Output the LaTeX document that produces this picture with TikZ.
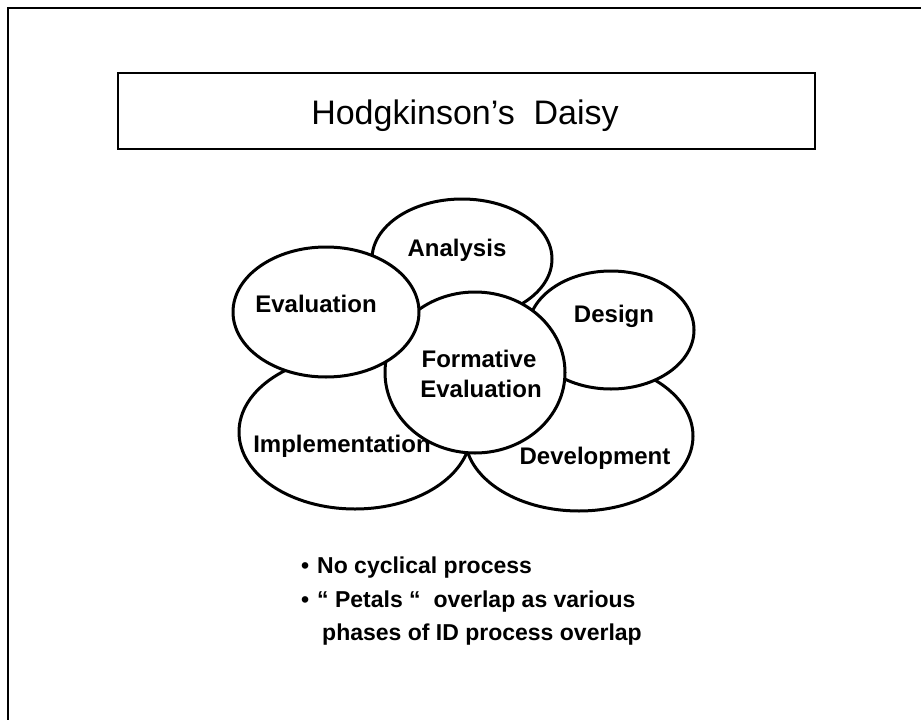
\documentclass[tikz,border=0pt]{standalone}
\usepackage{fontspec}
\setmainfont{Liberation Sans}
\usetikzlibrary{shapes.geometric}
\begin{document}
\begin{tikzpicture}[x=1pt,y=-1pt,
  frameline/.style={draw=black, line width=1.5pt},
  petal/.style={draw=black, line width=3pt, fill=white, ellipse, inner sep=0pt},
  petaltext/.style={font=\fontsize{24}{28}\selectfont\bfseries, anchor=base, inner sep=0pt},
  bullettext/.style={font=\fontsize{23}{27}\selectfont\bfseries, anchor=base west, inner sep=0pt}]
  \useasboundingbox (0,0) rectangle (921,720);
  \fill[white] (0,0) rectangle (921,720);

  % page frame (top and left edges)
  \coordinate (frameTL) at (8,8);
  \coordinate (frameTR) at (921,8);
  \coordinate (frameBL) at (8,720);
  \draw[frameline] (frameTR) -- (frameTL) -- (frameBL);

  % title box
  \node[frameline, minimum width=697pt, minimum height=76pt, inner sep=0pt] (titlebox) at (466.5,111) {};
  \node[font=\fontsize{34}{38}\selectfont, anchor=base, inner sep=0pt] (title) at (465,124) {Hodgkinson’s\ \ Daisy};

  % petals, back to front
  \node[petal, minimum width=228pt, minimum height=150pt] (development) at (579,436) {};
  \node[petaltext] (developmentlabel) at (595,464) {Development};
  \node[petal, minimum width=232pt, minimum height=154pt] (implementation) at (355,432) {};
  \node[petaltext] (implementationlabel) at (342,452) {Implementation};
  \node[petal, minimum width=180pt, minimum height=120pt] (analysis) at (462,259) {};
  \node[petaltext] (analysislabel) at (457,256) {Analysis};
  \node[petal, minimum width=166pt, minimum height=118pt] (design) at (611,330) {};
  \node[petaltext] (designlabel) at (614,322) {Design};
  \node[petal, minimum width=180pt, minimum height=161pt] (formative) at (475,372.5) {};
  \node[petaltext] (formativelabel) at (479,367) {Formative};
  \node[petaltext] (formativelabel2) at (481,397) {Evaluation};
  \node[petal, minimum width=186pt, minimum height=130pt] (evaluation) at (326,312) {};
  \node[petaltext] (evaluationlabel) at (316,312) {Evaluation};

  % notes
  \node[bullettext] (bulletA) at (301,573) {•};
  \node[bullettext] (noteA) at (317,573) {No cyclical process};
  \node[bullettext] (bulletB) at (301,607) {•};
  \node[bullettext] (noteB) at (317,607) {“ Petals “\ \ overlap as various};
  \node[bullettext] (noteC) at (322,640) {phases of ID process overlap};
\end{tikzpicture}
\end{document}
